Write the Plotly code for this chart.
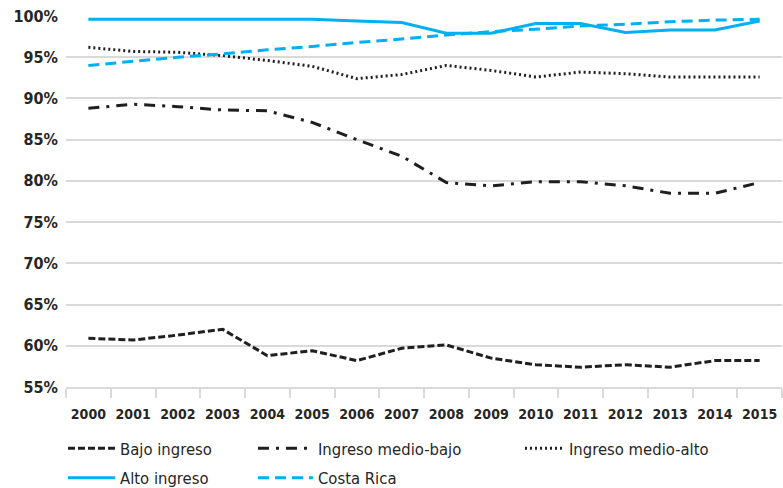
import plotly.graph_objects as go

years = [str(y) for y in range(2000, 2016)]

bajo_ingreso = [60.9, 60.7, 61.3, 62.0, 58.8, 59.4, 58.2, 59.7, 60.1, 58.5, 57.7, 57.4, 57.7, 57.4, 58.2, 58.2]
medio_bajo = [88.8, 89.3, 89.0, 88.6, 88.5, 87.1, 85.0, 83.0, 79.8, 79.4, 79.9, 79.9, 79.4, 78.5, 78.5, 79.8]
medio_alto = [96.2, 95.7, 95.6, 95.2, 94.6, 93.9, 92.4, 92.9, 94.0, 93.4, 92.6, 93.2, 93.0, 92.6, 92.6, 92.6]
alto_ingreso = [99.6, 99.6, 99.6, 99.6, 99.6, 99.6, 99.4, 99.2, 97.9, 97.9, 99.1, 99.1, 98.0, 98.3, 98.3, 99.4]
costa_rica = [94.0, 94.5, 95.0, 95.4, 95.9, 96.3, 96.8, 97.2, 97.7, 98.1, 98.4, 98.8, 99.0, 99.3, 99.5, 99.6]

y_ticks = [55, 60, 65, 70, 75, 80, 85, 90, 95, 100]
y_ticklabels = [f"{v}%" for v in y_ticks]

BLUE = "#00B0F0"
BLACK = "#1f1f1f"
FONT = "DejaVu Sans Condensed, Roboto, sans-serif"

series = [
    ("Bajo ingreso", bajo_ingreso, BLACK, "7px,3px", "legend"),
    ("Ingreso medio-bajo", medio_bajo, BLACK, "11px,7px,3px,7px", "legend2"),
    ("Ingreso medio-alto", medio_alto, BLACK, "2px,3px", "legend3"),
    ("Alto ingreso", alto_ingreso, BLUE, "solid", "legend"),
    ("Costa Rica", costa_rica, BLUE, "11px,6px", "legend2"),
]

fig = go.Figure()
for name, vals, color, dash, leg in series:
    fig.add_trace(go.Scatter(
        x=years, y=vals, name=name, mode="lines",
        line=dict(color=color, width=3, dash=dash),
        legend=leg, legendgroup=name,
    ))

W, H = 783, 488
L, R, T, B = 66, 1, 16, 101
pw = W - L - R
ph = H - T - B

def px_x(p):
    return (p - L) / pw

def px_y(p):
    return (H - B - p) / ph

legfont = dict(family=FONT, size=16.5, color="#262626")
common = dict(orientation="v", xanchor="left", yanchor="top", font=legfont,
              bgcolor="rgba(0,0,0,0)", tracegroupgap=5)

fig.update_layout(
    width=W, height=H,
    margin=dict(l=L, r=R, t=T, b=B, autoexpand=False),
    plot_bgcolor="white", paper_bgcolor="white",
    font=dict(family=FONT, color="#262626"),
    xaxis=dict(
        type="category", tickson="boundaries", ticks="outside", ticklen=9,
        tickcolor="#d9d9d9", tickwidth=1.5, showgrid=False, tickangle=0,
        showline=True, linecolor="#d9d9d9", linewidth=1.5,
        ticklabelstandoff=13,
        tickfont=dict(family=FONT, size=14, color="#262626", weight="bold"),
        range=[-0.5, 15.5],
    ),
    yaxis=dict(
        range=[55, 100], tickvals=y_ticks, ticktext=y_ticklabels,
        showgrid=True, gridcolor="#d9d9d9", gridwidth=1.5,
        zeroline=False, ticks="", ticklabelstandoff=7,
        tickfont=dict(family=FONT, size=16, color="#262626", weight="bold"),
    ),
    legend=dict(x=px_x(63), y=px_y(431), itemwidth=47, **common),
    legend2=dict(x=px_x(253), y=px_y(431), itemwidth=55, **common),
    legend3=dict(x=px_x(520), y=px_y(431), itemwidth=39, **common),
    showlegend=True,
)

fig.write_html("out.html", config={"displayModeBar": False},
               post_script="document.body.style.margin='0';document.body.style.overflow='hidden';")
